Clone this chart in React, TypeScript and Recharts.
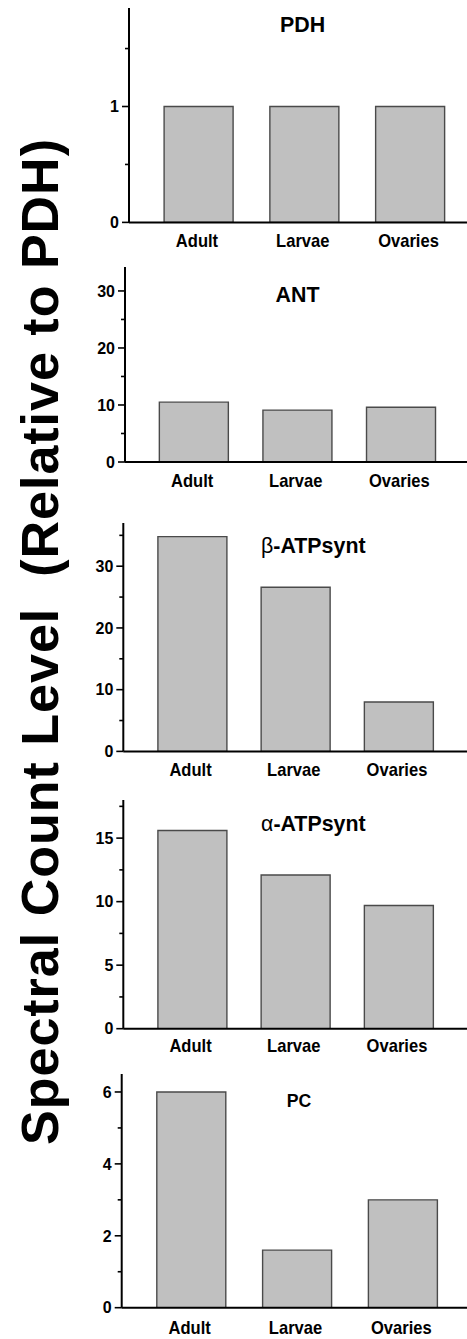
import React from 'react';
import { BarChart, Bar, XAxis, YAxis } from 'recharts';

const categories = ['Adult', 'Larvae', 'Ovaries'];

const pdhValues = [1, 1, 1];
const antValues = [10.5, 9.1, 9.6];
const betaValues = [34.8, 26.6, 8.0];
const alphaValues = [15.6, 12.1, 9.7];
const pcValues = [6.0, 1.6, 3.0];

const pdhTicks = [0, 0.5, 1, 1.5];
const pdhLabeled = [0, 1];
const antTicks = [0, 5, 10, 15, 20, 25, 30];
const antLabeled = [0, 10, 20, 30];
const betaTicks = [0, 5, 10, 15, 20, 25, 30, 35];
const betaLabeled = [0, 10, 20, 30];
const alphaTicks = [0, 2.5, 5, 7.5, 10, 12.5, 15, 17.5];
const alphaLabeled = [0, 5, 10, 15];
const pcTicks = [0, 1, 2, 3, 4, 5, 6];
const pcLabeled = [0, 2, 4, 6];

const yMaxes = [1.85, 34.2, 37, 18, 6.5];

const titles = ['PDH', 'ANT', '-ATPsynt', '-ATPsynt', 'PC'];
const titleGreek = ['', '', 'β', 'α', ''];
const yAxisTitle = 'Spectral Count Level  (Relative to PDH)';

const panelValues = [pdhValues, antValues, betaValues, alphaValues, pcValues];
const panelTicks = [pdhTicks, antTicks, betaTicks, alphaTicks, pcTicks];
const panelLabeled = [pdhLabeled, antLabeled, betaLabeled, alphaLabeled, pcLabeled];

// layout (positions / sizes only)
const layouts = [
  { axisX: 129, top: 8.3, bottom: 222.7, padL: 17.1, padR: 3.6, labelDy: 24.6, titleX: 302.5, titleY: 31.7, titleSize: 23 },
  { axisX: 125, top: 266.7, bottom: 461.7, padL: 17.35, padR: 13.9, labelDy: 25, titleX: 297.5, titleY: 301.7, titleSize: 23 },
  { axisX: 123.3, top: 523.3, bottom: 751.7, padL: 17.6, padR: 16.4, labelDy: 25, titleX: 313.3, titleY: 553, titleSize: 23 },
  { axisX: 123.3, top: 800, bottom: 1028.7, padL: 17.6, padR: 16.4, labelDy: 23.5, titleX: 313.3, titleY: 831, titleSize: 23 },
  { axisX: 121.7, top: 1074, bottom: 1307.7, padL: 17.1, padR: 10.8, labelDy: 26, titleX: 299, titleY: 1106.7, titleSize: 19 },
];

const FONT = '"Liberation Sans", Arial, Helvetica, sans-serif';
const PAGE_W = 467;
const PAGE_H = 1339;
const MARGIN_TOP = 6;
const XAXIS_H = 40;
const YAXIS_W = 60;

const makeYTick = (labeled: number[]) => (props: any) => {
  const { x, y, payload } = props;
  const major = labeled.includes(payload.value);
  return (
    <g>
      <line x1={x - (major ? 7 : 4)} x2={x} y1={y} y2={y} stroke="#000" strokeWidth={1.6} />
      {major && (
        <text
          x={x - 10}
          y={y}
          dy="0.36em"
          textAnchor="end"
          fontSize={16}
          fontWeight={700}
          fill="#000"
          fontFamily={FONT}
        >
          {payload.value}
        </text>
      )}
    </g>
  );
};

const makeXTick = (dy: number) => (props: any) => {
  const { x, y, payload } = props;
  return (
    <text
      transform={`translate(${x - 2},${y + dy}) scale(0.92,1)`}
      textAnchor="middle"
      fontSize={18}
      fontWeight={700}
      fill="#000"
      fontFamily={FONT}
    >
      {payload.value}
    </text>
  );
};

function Panel({ index }: { index: number }) {
  const L = layouts[index];
  const data = categories.map((c, i) => ({ name: c, value: panelValues[index][i] }));
  const plotH = L.bottom - L.top;
  const height = plotH + MARGIN_TOP + XAXIS_H;
  return (
    <div style={{ position: 'absolute', left: 0, top: L.top - MARGIN_TOP, width: PAGE_W, height }}>
      <BarChart
        width={PAGE_W}
        height={height}
        data={data}
        margin={{ top: MARGIN_TOP, right: 0, bottom: 0, left: L.axisX - YAXIS_W }}
      >
        <XAxis
          dataKey="name"
          type="category"
          height={XAXIS_H}
          padding={{ left: L.padL, right: L.padR }}
          tickLine={false}
          tickSize={0}
          tickMargin={0}
          interval={0}
          axisLine={{ stroke: '#000', strokeWidth: 2 }}
          tick={makeXTick(L.labelDy)}
        />
        <YAxis
          type="number"
          width={YAXIS_W}
          domain={[0, yMaxes[index]]}
          ticks={panelTicks[index]}
          interval={0}
          tickLine={false}
          tickSize={0}
          tickMargin={0}
          allowDataOverflow
          axisLine={{ stroke: '#000', strokeWidth: 2 }}
          tick={makeYTick(panelLabeled[index])}
        />
        <Bar
          dataKey="value"
          fill="#c0c0c0"
          stroke="#4a4a4a"
          strokeWidth={1.4}
          barSize={69}
          isAnimationActive={false}
        />
      </BarChart>
    </div>
  );
}

export default function App() {
  return (
    <div style={{ position: 'absolute', left: 0, top: 0, width: PAGE_W, height: PAGE_H, background: '#fff', overflow: 'hidden' }}>
      {layouts.map((_, i) => (
        <Panel key={i} index={i} />
      ))}
      <svg
        width={PAGE_W}
        height={PAGE_H}
        style={{ position: 'absolute', left: 0, top: 0, pointerEvents: 'none' }}
      >
        {layouts.map((L, i) => (
          <text
            key={i}
            transform={`translate(${L.titleX},${L.titleY}) scale(0.93,1)`}
            textAnchor="middle"
            fontSize={L.titleSize}
            fontWeight={700}
            fill="#000"
            fontFamily={FONT}
          >
            {titleGreek[i] && <tspan fontWeight={400}>{titleGreek[i]}</tspan>}
            <tspan>{titles[i]}</tspan>
          </text>
        ))}
        <text
          transform="translate(58,641.5) rotate(-90)"
          textAnchor="middle"
          fontSize={52}
          fontWeight={700}
          letterSpacing={1}
          fill="#000"
          fontFamily={FONT}
          style={{ whiteSpace: 'pre' }}
        >
          {yAxisTitle}
        </text>
      </svg>
    </div>
  );
}
